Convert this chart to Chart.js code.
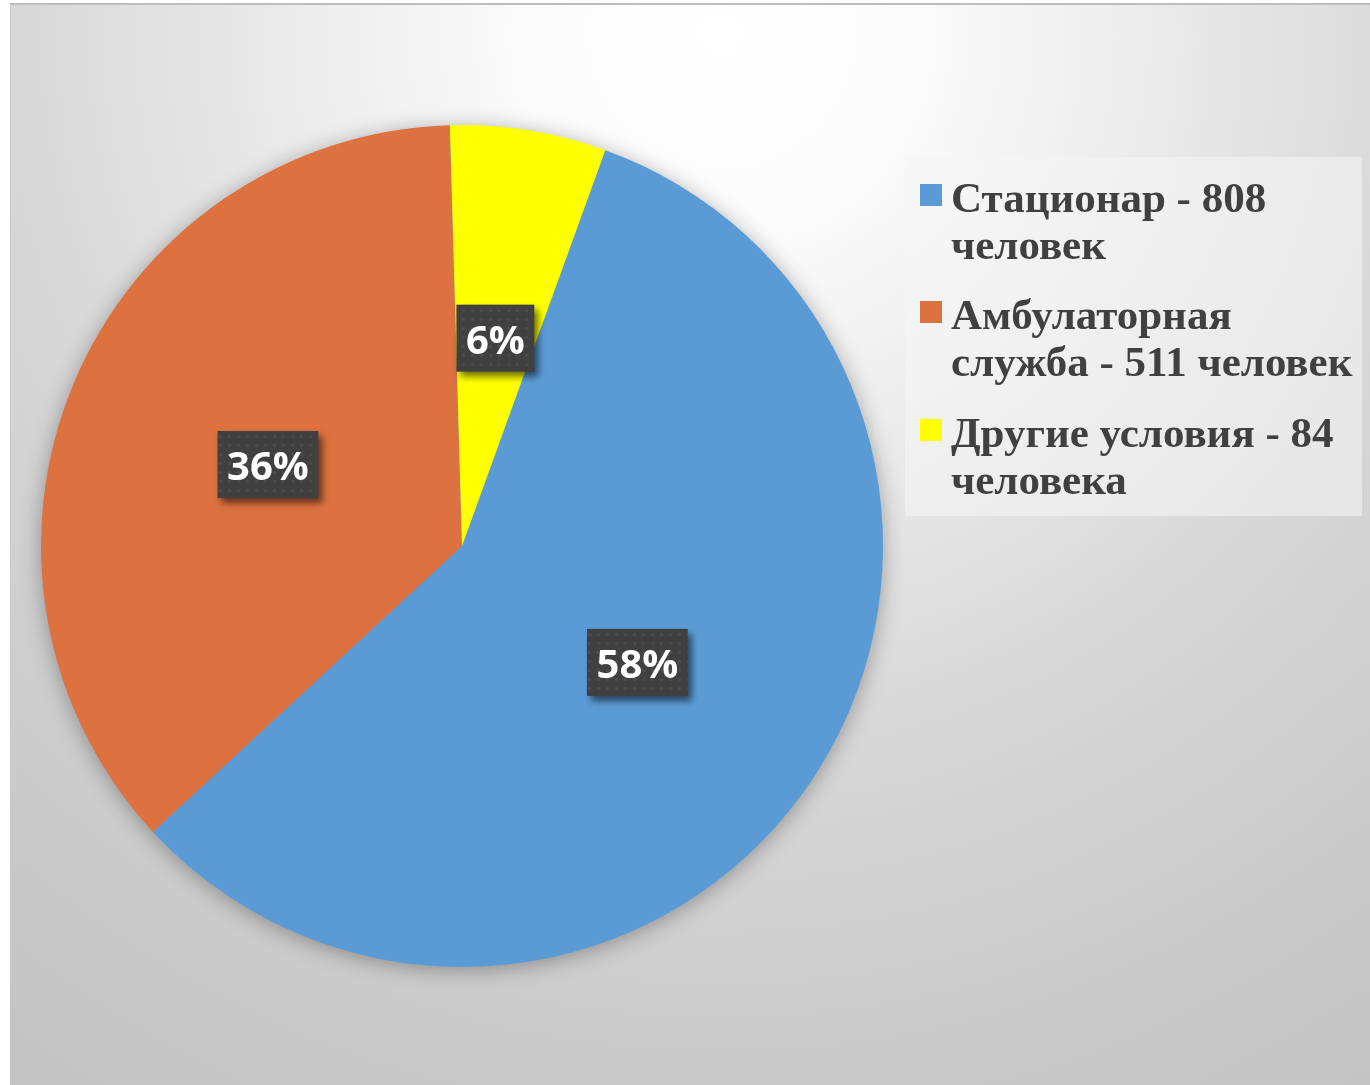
<!DOCTYPE html>
<html>
<head>
<meta charset="utf-8">
<script src="https://cdn.jsdelivr.net/npm/chart.js@4.4.1/dist/chart.umd.min.js"></script>
<style>
  html, body { margin: 0; padding: 0; background: #ffffff; }
  #wrap { position: relative; width: 1370px; height: 1085px; overflow: hidden; }
  #bg {
    position: absolute; left: 10px; top: 3px; right: 0; bottom: 0;
    border-top: 2px solid #bdbdbd; border-left: 1px solid #c9c9c9;
    background: radial-gradient(circle at 710px 30px, #ffffff 0px, #fbfbfb 200px, #ececec 420px, #d8d8d8 700px, #cdcdcd 950px, #c3c3c3 1250px);
  }
  #chart { position: absolute; left: 0; top: 0; }
  #legend {
    position: absolute; left: 905px; top: 157px; width: 457px; height: 359px;
    background: rgba(245, 245, 245, 0.55);
  }
  .item { position: absolute; left: 0; }
  .swatch { position: absolute; left: 15px; top: 10px; width: 22px; height: 22px; }
  .text {
    position: absolute; left: 46px; width: 412px;
    font-family: "Liberation Serif", "Times New Roman", serif; font-weight: bold;
    font-size: 43px; line-height: 47px; color: #404040;
  }
</style>
</head>
<body>
<div id="wrap">
  <div id="bg"></div>
  <canvas id="chart" width="1370" height="1085"></canvas>
  <div id="legend"></div>
</div>
<script>
// данные диаграммы
const categories = ['Стационар', 'Амбулаторная служба', 'Другие условия'];
const values = [808, 511, 84];
const units = ['человек', 'человек', 'человека'];
const colors = ['#5b9bd5', '#dd7140', '#ffff00'];

const total = values.reduce((a, b) => a + b, 0);

// узор из точек для подписей
function makePattern() {
    const c = document.createElement('canvas');
    c.width = 9; c.height = 9;
    const p = c.getContext('2d');
    p.fillStyle = '#404040';
    p.fillRect(0, 0, 9, 9);
    p.fillStyle = 'rgba(255,255,255,0.06)';
    p.beginPath();
    p.arc(4.5, 4.5, 1.8, 0, Math.PI * 2);
    p.fill();
    return p.createPattern(c, 'repeat');
}

// тень под кругом
const pieShadow = {
    id: 'pieShadow',
    beforeDatasetsDraw(chart) {
        const arc = chart.getDatasetMeta(0).data[0];
        if (!arc) return;
        const ctx = chart.ctx;
        ctx.save();
        ctx.shadowColor = 'rgba(0,0,0,0.35)';
        ctx.shadowBlur = 22;
        ctx.shadowOffsetX = 0;
        ctx.shadowOffsetY = 3;
        ctx.fillStyle = colors[0];
        ctx.beginPath();
        ctx.arc(arc.x, arc.y, arc.outerRadius - 1, 0, Math.PI * 2);
        ctx.fill();
        ctx.restore();
    }
};

// подписи с процентами
const percentLabels = {
    id: 'percentLabels',
    afterDatasetsDraw(chart) {
        const ctx = chart.ctx;
        const pattern = makePattern();
        const meta = chart.getDatasetMeta(0);
        ctx.save();
        ctx.font = 'bold 40px "Open Sans", sans-serif';
        ctx.textAlign = 'center';
        ctx.textBaseline = 'middle';
        meta.data.forEach((arc, i) => {
            const pos = arc.getCenterPoint();
            const text = Math.round(values[i] / total * 100) + '%';
            const w = ctx.measureText(text).width + 19;
            const h = 67;
            ctx.save();
            ctx.shadowColor = 'rgba(0,0,0,0.55)';
            ctx.shadowBlur = 7;
            ctx.shadowOffsetX = 4;
            ctx.shadowOffsetY = 5;
            ctx.fillStyle = pattern;
            ctx.fillRect(pos.x - w / 2, pos.y - h / 2, w, h);
            ctx.restore();
            ctx.fillStyle = '#ffffff';
            ctx.fillText(text, pos.x, pos.y + 4);
        });
        ctx.restore();
    }
};

new Chart(document.getElementById('chart'), {
    type: 'pie',
    data: {
        labels: categories,
        datasets: [{
            data: values,
            backgroundColor: colors,
            borderWidth: 0
        }]
    },
    options: {
        responsive: false,
        animation: false,
        rotation: 19.9,
        layout: { padding: { left: 41, right: 487, top: 125, bottom: 118 } },
        plugins: {
            legend: { display: false },
            tooltip: { enabled: false }
        }
    },
    plugins: [pieShadow, percentLabels]
});

// легенда справа
const legend = document.getElementById('legend');
const itemTops = [17, 134, 252];
categories.forEach((name, i) => {
    const item = document.createElement('div');
    item.className = 'item';
    item.style.top = itemTops[i] + 'px';
    const sw = document.createElement('div');
    sw.className = 'swatch';
    sw.style.background = colors[i];
    const tx = document.createElement('div');
    tx.className = 'text';
    tx.textContent = name + ' - ' + values[i] + ' ' + units[i];
    item.appendChild(sw);
    item.appendChild(tx);
    legend.appendChild(item);
});
</script>
</body>
</html>
